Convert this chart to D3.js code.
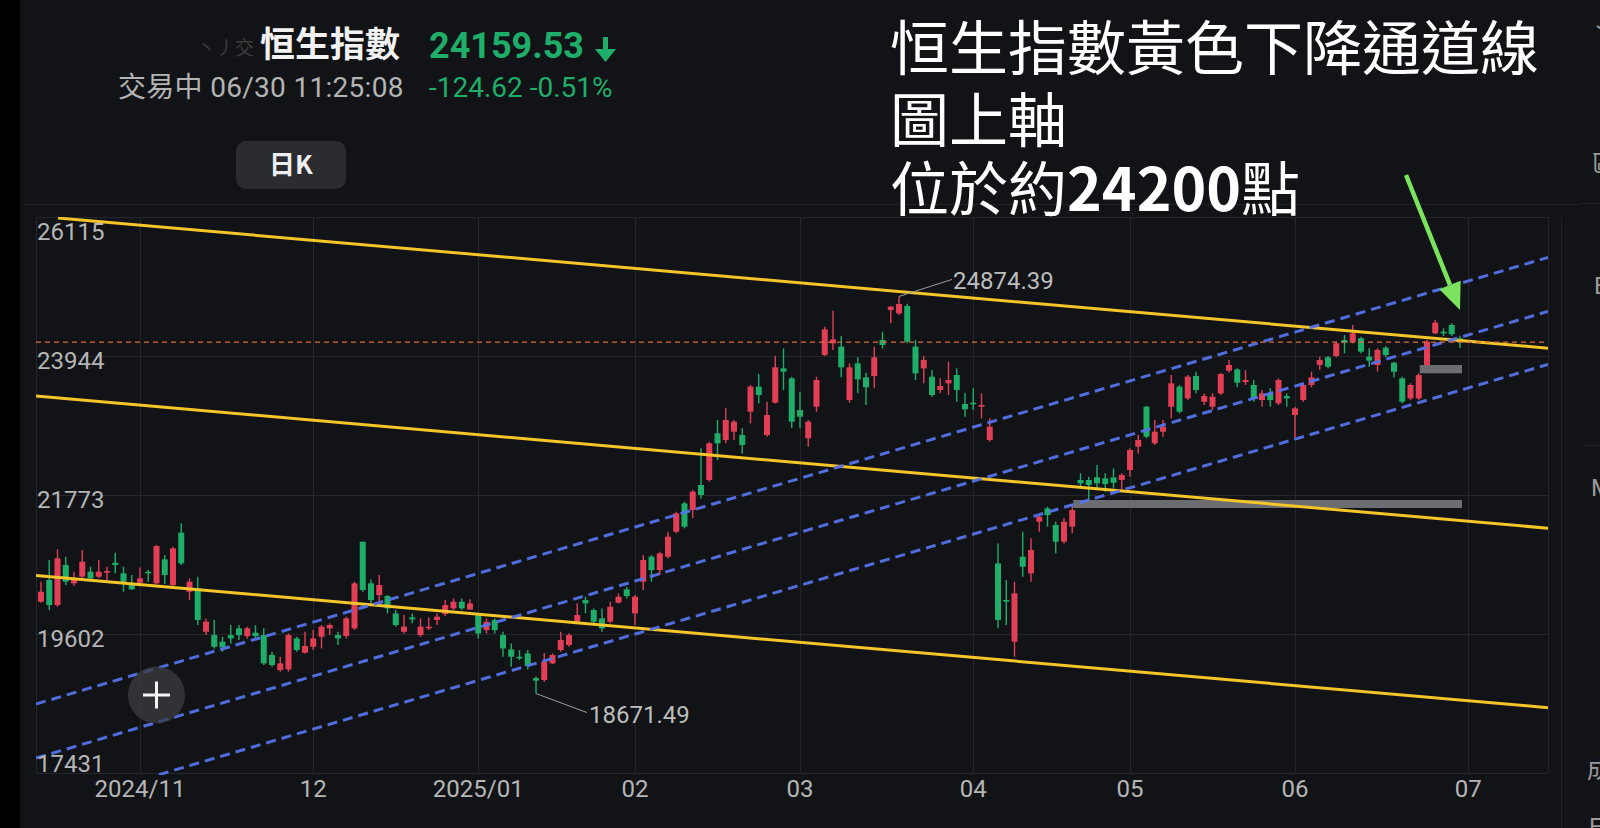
<!DOCTYPE html>
<html>
<head>
<meta charset="utf-8">
<script src="https://cdn.jsdelivr.net/npm/d3@7"></script>
<style>
  html, body { margin: 0; padding: 0; background: #111316; overflow: hidden; }
  svg { display: block; }
</style>
</head>
<body>
<svg id="chart" width="1600" height="828"></svg>
<script>
// ---- Hang Seng Index daily candles, 2024-10-16 .. 2025-06-30 ----
const dates = [
  "2024-10-16","2024-10-17","2024-10-18","2024-10-21","2024-10-22","2024-10-23","2024-10-24","2024-10-25","2024-10-28","2024-10-29","2024-10-30","2024-10-31",
  "2024-11-01","2024-11-04","2024-11-05","2024-11-06","2024-11-07","2024-11-08","2024-11-11","2024-11-12","2024-11-13","2024-11-14","2024-11-15","2024-11-18","2024-11-19","2024-11-20","2024-11-21","2024-11-22","2024-11-25","2024-11-26","2024-11-27","2024-11-28","2024-11-29",
  "2024-12-02","2024-12-03","2024-12-04","2024-12-05","2024-12-06","2024-12-09","2024-12-10","2024-12-11","2024-12-12","2024-12-13","2024-12-16","2024-12-17","2024-12-18","2024-12-19","2024-12-20","2024-12-23","2024-12-24","2024-12-27","2024-12-30","2024-12-31",
  "2025-01-02","2025-01-03","2025-01-06","2025-01-07","2025-01-08","2025-01-09","2025-01-10","2025-01-13","2025-01-14","2025-01-15","2025-01-16","2025-01-17","2025-01-20","2025-01-21","2025-01-22","2025-01-23","2025-01-24","2025-01-27","2025-01-28",
  "2025-02-03","2025-02-04","2025-02-05","2025-02-06","2025-02-07","2025-02-10","2025-02-11","2025-02-12","2025-02-13","2025-02-14","2025-02-17","2025-02-18","2025-02-19","2025-02-20","2025-02-21","2025-02-24","2025-02-25","2025-02-26","2025-02-27","2025-02-28",
  "2025-03-03","2025-03-04","2025-03-05","2025-03-06","2025-03-07","2025-03-10","2025-03-11","2025-03-12","2025-03-13","2025-03-14","2025-03-17","2025-03-18","2025-03-19","2025-03-20","2025-03-21","2025-03-24","2025-03-25","2025-03-26","2025-03-27","2025-03-28","2025-03-31",
  "2025-04-01","2025-04-02","2025-04-03","2025-04-07","2025-04-08","2025-04-09","2025-04-10","2025-04-11","2025-04-14","2025-04-15","2025-04-16","2025-04-17","2025-04-22","2025-04-23","2025-04-24","2025-04-25","2025-04-28","2025-04-29","2025-04-30",
  "2025-05-02","2025-05-06","2025-05-07","2025-05-08","2025-05-09","2025-05-12","2025-05-13","2025-05-14","2025-05-15","2025-05-16","2025-05-19","2025-05-20","2025-05-21","2025-05-22","2025-05-23","2025-05-26","2025-05-27","2025-05-28","2025-05-29","2025-05-30",
  "2025-06-02","2025-06-03","2025-06-04","2025-06-05","2025-06-06","2025-06-09","2025-06-10","2025-06-11","2025-06-12","2025-06-13","2025-06-16","2025-06-17","2025-06-18","2025-06-19","2025-06-20","2025-06-23","2025-06-24","2025-06-25","2025-06-26","2025-06-27","2025-06-30"
];

const open = [
  20106,20445,20054,20679,20393,20497,20575,20497,20559,20715,
  20549,20367,20403,20575,20393,20767,20366,21184,20262,20314,
  19637,19585,19481,19585,19690,19570,19622,19585,19273,19039,
  19049,19533,19309,19403,19559,19690,19585,19570,19690,21043,
  20393,20210,20195,19924,19637,19861,19585,19690,19820,19913,
  20002,20106,19986,19898,19664,19820,19585,19361,19247,19299,
  18914,18883,19143,19352,19430,19794,20132,19976,19846,19794,
  20091,20299,19924,20419,20809,20601,20809,21200,21642,21538,
  21929,22007,22736,22632,22762,22710,23074,23465,22710,23215,
  23751,23595,23100,22658,23152,23959,24142,24090,23257,23829,
  23611,23631,24194,24662,24610,24725,24090,23751,23621,23413,
  23517,23647,23194,23215,23152,22632,20705,20132,19481,20809,
  20549,21356,21564,21304,21044,21278,22007,22007,22048,22033,
  22048,22007,22163,22528,23152,22580,22762,23152,23465,23282,
  23631,23230,23152,23360,23714,23735,23537,23491,23256,23360,
  23204,23319,23022,23256,23491,23803,23923,23944,24194,24168,
  24220,23933,23803,24074,23840,23595,23282,23282,23803,24298,
  24324,24428,24220
];
const high = [
  20418,20757,20924,20809,20575,20913,20653,20757,20653,20871,
  20653,20523,20642,20601,20991,20835,20965,21330,20471,20497,
  19846,19820,19559,19742,19742,19716,19742,19690,19325,19247,
  19612,19559,19637,19664,19742,19768,19637,19872,20419,21043,
  20455,20523,20210,19976,19898,19924,19846,19861,19924,20132,
  20158,20158,20143,19924,19846,19846,19637,19455,19351,19351,
  18940,19305,19300,19638,19612,20081,20184,20002,20002,20106,
  20236,20340,20210,20835,20835,20887,21200,21512,21668,21850,
  22502,22606,22944,23126,22944,22814,23491,23663,23230,23944,
  24064,23621,23387,22944,23621,24402,24652,24256,23829,23923,
  23684,24090,24324,24725,24874.39,24760,24194,23944,23725,23595,
  23855,23751,23371,23439,23361,22970,21017,20445,20419,21200,
  21096,21460,21590,21356,21408,21616,22111,22059,22241,22111,
  22189,22111,22502,22710,23163,22944,22944,23647,23491,23647,
  23699,23360,23360,23683,23881,23751,23725,23569,23413,23439,
  23595,23360,23152,23517,23699,23933,23944,24168,24272,24428,
  24246,24064,24064,24100,23855,23621,23517,23673,24194,24506,
  24376,24454,24260
];
const low = [
  20090,19976,20028,20366,20351,20471,20445,20471,20445,20549,
  20262,20288,20366,20419,20382,20382,20351,20679,20132,19742,
  19585,19377,19325,19455,19507,19533,19533,19117,19091,19013,
  19013,19325,19299,19351,19377,19585,19429,19533,19664,20262,
  20080,20106,19924,19716,19611,19768,19559,19664,19742,19882,
  19976,19976,19976,19533,19611,19611,19247,19091,19195,19049,
  18671.49,18852,19133,19326,19404,19779,19924,19768,19638,19768,
  20080,20158,19742,20288,20419,20523,20783,21174,21252,21408,
  21720,21981,22319,22580,22632,22423,22892,23204,22684,23204,
  23413,22814,22814,22528,23074,23944,24038,23611,23215,23361,
  23178,23439,24064,24454,24584,24142,23569,23517,23309,23361,
  23335,23231,22996,23100,22970,22606,19690,19742,19247,20497,
  20419,21200,21278,20861,21017,21174,21876,21694,21876,21824,
  21876,21850,22059,22423,22658,22554,22684,22970,23048,23256,
  23361,23178,23100,23334,23683,23454,23491,23230,23152,23152,
  23178,23152,22658,23230,23454,23725,23751,23923,23985,24142,
  23985,23777,23699,23923,23610,23204,23256,23256,23787,24287,
  24256,24256,24070
];
const close = [
  20262,20054,20783,20419,20445,20731,20471,20575,20585,20679,
  20419,20299,20471,20549,20976,20523,20939,20705,20419,19820,
  19794,19403,19393,19533,19585,19690,19570,19143,19117,19143,
  19585,19351,19414,19533,19716,19742,19533,19846,20393,20288,
  20132,20367,20002,19742,19716,19830,19716,19716,19872,20054,
  20106,20002,20080,19611,19794,19664,19377,19247,19221,19101,
  18874,19169,19274,19508,19586,19898,20080,19794,19690,20028,
  20184,20195,20184,20757,20601,20861,21122,21486,21278,21825,
  21773,22580,22580,22944,22918,22554,23465,23335,23022,23767,
  23699,22918,22996,22918,23569,24360,24204,23767,23767,23579,
  23455,23923,24116,24714,24756,24168,23673,23881,23335,23475,
  23569,23413,23111,23189,23178,22840,19820,20106,20236,20653,
  20913,21434,21460,21044,21356,21538,21955,21929,21955,21944,
  21965,22085,22476,22632,22684,22762,22840,23517,23074,23621,
  23413,23319,23308,23663,23803,23527,23569,23282,23360,23256,
  23569,23282,23126,23491,23610,23881,23777,24142,24152,24298,
  24012,23871,24038,23959,23699,23230,23491,23647,24168,24464,
  24298,24284.15,24159.53
];

// price axis ticks
const yTicks = [17431, 19602, 21773, 23944, 26115];

// month ticks (first session of each month; July falls after the last candle)
const tickDates  = ["2024-11-01","2024-12-02","2025-01-02","2025-02-03","2025-03-03","2025-04-01","2025-05-02","2025-06-02","2025-07-02"];
const tickLabels = ["2024/11","12","2025/01","02","03","04","05","06","07"];

// drawn trend lines: [candle index, index level] end points
const yellowChannel = [
  [[2.06, 26099], [182.67, 24066]],
  [[-0.6, 23319], [182.67, 21254]],
  [[-0.6, 20516], [182.67, 18451]]
];
const blueChannel = [
  [[-0.6, 18509], [182.67, 25484]],
  [[-0.6, 17665], [182.67, 24641]],
  [[-0.6, 16838], [182.67, 23813]]
];

// open gap zones
const gapFrom = ["2025-04-22", "2025-06-23"];
const gapTo   = ["2025-06-30", "2025-06-30"];
const gapLow  = [21570, 23674];
const gapHigh = [21695, 23803];

// quote header
const quoteName = "恒生指數";
const quoteStatus = "交易中 06/30 11:25:08";
const noteLines = ["恒生指數黃色下降通道線", "圖上軸"];
const noteLevel = ["位於約", "24200", "點"];
const arrowTip = [172, 24662];

// ---------------------------------------------------------------
const svg = d3.select("#chart");
const W = 1600, H = 828;
const plotL = 36, plotR = 1548, plotT = 217, plotB = 773;
const UP = "#e23f57", DOWN = "#1fae6a";
const CJK = "'Noto Sans CJK TC', 'Noto Sans CJK SC', sans-serif";
const LAT = "Roboto, 'Noto Sans CJK TC', sans-serif";

const n = dates.length;
const x = d3.scaleLinear().domain([0, n - 1]).range([41, 41 + 8.25 * (n - 1)]);
const y = d3.scaleLinear().domain([yTicks[0], yTicks[yTicks.length - 1]]).range([plotB, plotT]);

const candles = dates.map((d, i) => ({ d, i, o: open[i], h: high[i], l: low[i], c: close[i] }));

// backgrounds
svg.append("rect").attr("width", W).attr("height", H).attr("fill", "#111316");
svg.append("rect").attr("width", 20).attr("height", H).attr("fill", "#000");

// panel separators
const sep = svg.append("g").attr("stroke", "#202226").attr("stroke-width", 1);
sep.append("line").attr("x1", 24).attr("x2", 1580).attr("y1", 204.5).attr("y2", 204.5);
sep.append("line").attr("x1", 1582).attr("x2", W).attr("y1", 203.5).attr("y2", 203.5);
sep.append("line").attr("x1", 1582).attr("x2", W).attr("y1", 445.5).attr("y2", 445.5);
sep.append("line").attr("x1", 1561.5).attr("x2", 1561.5).attr("y1", 217).attr("y2", H);

// grid
const tickIndex = tickDates.map(d => { const k = dates.indexOf(d); return k >= 0 ? k : n; });
const grid = svg.append("g").attr("stroke", "#24262b").attr("stroke-width", 1);
grid.selectAll(".h").data(yTicks).join("line")
  .attr("x1", plotL).attr("x2", plotR)
  .attr("y1", d => Math.round(y(d)) + 0.5).attr("y2", d => Math.round(y(d)) + 0.5);
grid.selectAll(".v").data(tickIndex).join("line")
  .attr("x1", d => Math.round(x(d)) + 0.5).attr("x2", d => Math.round(x(d)) + 0.5)
  .attr("y1", plotT).attr("y2", plotB);
grid.append("line").attr("x1", plotL + 0.5).attr("x2", plotL + 0.5).attr("y1", plotT).attr("y2", plotB);
grid.append("line").attr("x1", plotR + 0.5).attr("x2", plotR + 0.5).attr("y1", plotT).attr("y2", plotB);

// clip for plot content
svg.append("defs").append("clipPath").attr("id", "plotClip")
  .append("rect").attr("x", plotL).attr("y", plotT).attr("width", plotR - plotL).attr("height", plotB - plotT + 2);
const plot = svg.append("g").attr("clip-path", "url(#plotClip)");

// gap zones
plot.append("g").selectAll("rect").data(gapFrom).join("rect")
  .attr("x", (d, k) => x(dates.indexOf(d)) + 1)
  .attr("width", (d, k) => x(dates.indexOf(gapTo[k])) + 2 - (x(dates.indexOf(d)) + 1))
  .attr("y", (d, k) => y(gapHigh[k]))
  .attr("height", (d, k) => y(gapLow[k]) - y(gapHigh[k]))
  .attr("fill", "#6c6d70");

// candles
const cg = plot.append("g");
const bodyW = 6;
cg.selectAll("line").data(candles).join("line")
  .attr("x1", d => x(d.i)).attr("x2", d => x(d.i))
  .attr("y1", d => y(d.h)).attr("y2", d => y(d.l))
  .attr("stroke", d => d.c >= d.o ? UP : DOWN).attr("stroke-width", 1.4);
cg.selectAll("rect").data(candles).join("rect")
  .attr("x", d => x(d.i) - bodyW / 2).attr("width", bodyW)
  .attr("y", d => y(Math.max(d.o, d.c)))
  .attr("height", d => Math.max(1.5, Math.abs(y(d.o) - y(d.c))))
  .attr("fill", d => d.c >= d.o ? UP : DOWN);

// trend channels
const seg = d3.line().x(p => x(p[0])).y(p => y(p[1]));
plot.append("g").selectAll("path").data(yellowChannel).join("path")
  .attr("d", seg).attr("fill", "none").attr("stroke", "#f5c52a").attr("stroke-width", 3);
plot.append("g").selectAll("path").data(blueChannel).join("path")
  .attr("d", seg).attr("fill", "none").attr("stroke", "#5572e8").attr("stroke-width", 3)
  .attr("stroke-dasharray", "10,6").attr("opacity", 0.95);

// last price line
const last = close[n - 1], prev = close[n - 2];
plot.append("line").attr("x1", plotL).attr("x2", plotR)
  .attr("y1", y(last)).attr("y2", y(last))
  .attr("stroke", "#e0693c").attr("stroke-width", 1.3).attr("stroke-dasharray", "5,4");

// axis labels
svg.append("g").selectAll("text").data(yTicks).join("text")
  .attr("x", plotL + 1)
  .attr("y", (d, k) => k === yTicks.length - 1 ? y(d) + 23 : (k === 0 ? y(d) - 1 : y(d) + 12.5))
  .attr("fill", "#b6b6b6").attr("font-family", LAT).attr("font-size", 24)
  .text(d => d);
svg.append("g").selectAll("text").data(tickIndex).join("text")
  .attr("x", d => x(d)).attr("y", 797).attr("text-anchor", "middle")
  .attr("fill", "#b6b6b6").attr("font-family", LAT).attr("font-size", 24)
  .text((d, k) => tickLabels[k]);

// max / min labels
const hiC = candles.reduce((a, b) => b.h > a.h ? b : a);
const loC = candles.reduce((a, b) => b.l < a.l ? b : a);
const ann = svg.append("g").attr("font-family", LAT).attr("font-size", 24).attr("fill", "#bdbdbd");
ann.append("path").attr("d", `M${x(hiC.i)},${y(hiC.h)} L${x(hiC.i) + 53},${y(hiC.h) - 17}`)
  .attr("stroke", "#9c9c9c").attr("stroke-width", 1).attr("fill", "none");
ann.append("text").attr("x", x(hiC.i) + 54).attr("y", y(hiC.h) - 7).text(hiC.h.toFixed(2));
ann.append("path").attr("d", `M${x(loC.i)},${y(loC.l)} L${x(loC.i) + 51},${y(loC.l) + 19}`)
  .attr("stroke", "#9c9c9c").attr("stroke-width", 1).attr("fill", "none");
ann.append("text").attr("x", x(loC.i) + 53).attr("y", y(loC.l) + 29).text(loC.l.toFixed(2));

// zoom button
svg.append("circle").attr("cx", 156.5).attr("cy", 695).attr("r", 28.5).attr("fill", "#3b3d41").attr("opacity", 0.75);
svg.append("path").attr("d", "M143,695 H170 M156.5,681.5 V708.5").attr("stroke", "#f4f4f4").attr("stroke-width", 3);

// header
svg.append("text").attr("x", 197).attr("y", 55).attr("font-family", CJK).attr("font-size", 19)
  .attr("fill", "#9a9a9a").attr("opacity", 0.3).text("丶丿交");
svg.append("text").attr("x", 260).attr("y", 57).attr("font-family", CJK).attr("font-weight", 700)
  .attr("font-size", 35).attr("fill", "#f2f2f2").text(quoteName);
svg.append("text").attr("x", 429).attr("y", 58).attr("font-family", LAT).attr("font-weight", 700)
  .attr("font-size", 36).attr("fill", DOWN).text(last.toFixed(2));
svg.append("path").attr("d", "M603,37 H608 V49 H616 L605.5,62 L595,49 H603 Z").attr("fill", last < prev ? DOWN : UP);
svg.append("text").attr("x", 118).attr("y", 97).attr("font-family", LAT).attr("font-size", 28)
  .attr("letter-spacing", 0.3).attr("fill", "#b4b4b4").text(quoteStatus);
const chg = last - prev;
svg.append("text").attr("x", 429).attr("y", 97).attr("font-family", LAT).attr("font-size", 28)
  .attr("fill", DOWN).text(`${chg.toFixed(2)} ${(chg / prev * 100).toFixed(2)}%`);

svg.append("rect").attr("x", 236).attr("y", 141).attr("width", 110).attr("height", 48).attr("rx", 10).attr("fill", "#2a2c30");
svg.append("text").attr("x", 291).attr("y", 174).attr("text-anchor", "middle").attr("font-family", CJK)
  .attr("font-weight", 700).attr("font-size", 26).attr("fill", "#eeeeee").text("日K");

// note text
const note = svg.append("g").attr("font-family", CJK).attr("font-size", 59).attr("fill", "#ffffff");
note.selectAll("text.l").data(noteLines).join("text").attr("class", "l")
  .attr("x", 890).attr("y", (d, k) => [70, 142][k]).text(d => d);
const l3 = note.append("text").attr("x", 890).attr("y", 211);
l3.selectAll("tspan").data(noteLevel).join("tspan")
  .attr("font-weight", (d, k) => k === 1 ? 700 : 400).text(d => d);

// pointer arrow
const tipX = x(arrowTip[0]), tipY = y(arrowTip[1]);
const tailX = tipX - 54, tailY = tipY - 135;
const len = Math.hypot(tipX - tailX, tipY - tailY);
const ux = (tipX - tailX) / len, uy = (tipY - tailY) / len;
const bx = tipX - 27 * ux, by = tipY - 27 * uy;
svg.append("line").attr("x1", tailX).attr("y1", tailY).attr("x2", bx).attr("y2", by)
  .attr("stroke", "#7be35e").attr("stroke-width", 4.5);
svg.append("path")
  .attr("d", `M${tipX},${tipY} L${bx - 11.5 * uy},${by + 11.5 * ux} L${bx + 11.5 * uy},${by - 11.5 * ux} Z`)
  .attr("fill", "#7be35e");

// right side panel (clipped by the page edge)
const side = svg.append("g").attr("font-family", LAT).attr("font-size", 24).attr("fill", "#9a9a9a");
side.append("text").attr("x", 1590).attr("y", 40).text("丶");
side.append("text").attr("x", 1592).attr("y", 172).attr("font-family", CJK).text("區");
side.append("text").attr("x", 1594).attr("y", 294).text("B");
side.append("text").attr("x", 1591).attr("y", 496).text("MA");
side.append("text").attr("x", 1587).attr("y", 778).attr("font-family", CJK).text("成交量");
side.append("text").attr("x", 1589).attr("y", 835).text("E");
</script>
</body>
</html>
